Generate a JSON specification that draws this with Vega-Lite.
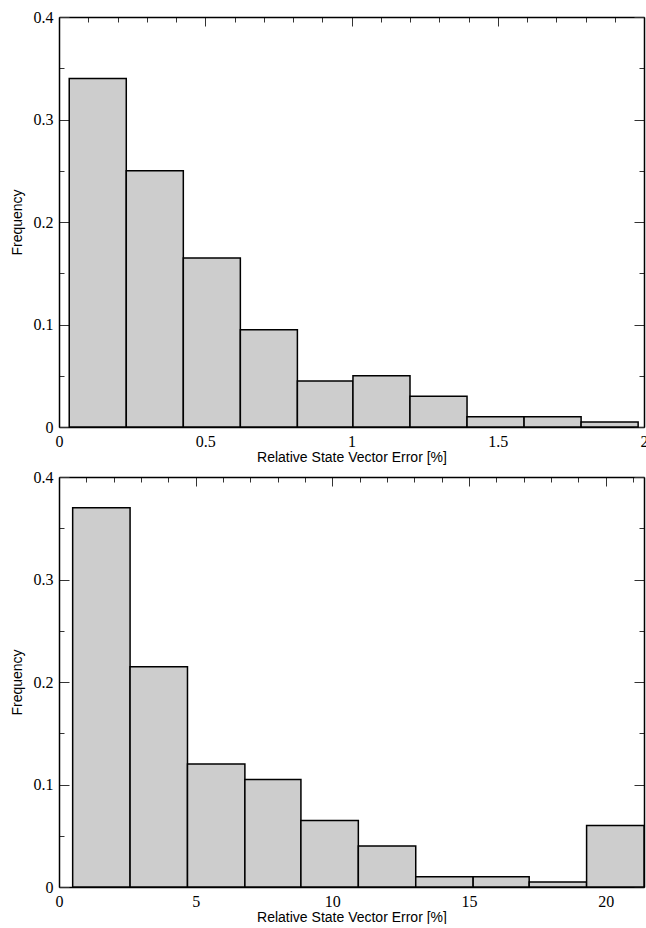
{
  "$schema": "https://vega.github.io/schema/vega-lite/v6.json",
  "padding": {"left": 10, "top": 9, "right": 0, "bottom": 0},
  "spacing": 5,
  "datasets": {
    "top": [
      {"x0": 0.035, "x1": 0.23, "freq": 0.34},
      {"x0": 0.23, "x1": 0.425, "freq": 0.25},
      {"x0": 0.425, "x1": 0.62, "freq": 0.165},
      {"x0": 0.62, "x1": 0.815, "freq": 0.095},
      {"x0": 0.815, "x1": 1.005, "freq": 0.045},
      {"x0": 1.005, "x1": 1.2, "freq": 0.05},
      {"x0": 1.2, "x1": 1.395, "freq": 0.03},
      {"x0": 1.395, "x1": 1.59, "freq": 0.01},
      {"x0": 1.59, "x1": 1.785, "freq": 0.01},
      {"x0": 1.785, "x1": 1.98, "freq": 0.005}
    ],
    "bottom": [
      {"x0": 0.5, "x1": 2.6, "freq": 0.37},
      {"x0": 2.6, "x1": 4.7, "freq": 0.215},
      {"x0": 4.7, "x1": 6.8, "freq": 0.12},
      {"x0": 6.8, "x1": 8.85, "freq": 0.105},
      {"x0": 8.85, "x1": 10.95, "freq": 0.065},
      {"x0": 10.95, "x1": 13.05, "freq": 0.04},
      {"x0": 13.05, "x1": 15.15, "freq": 0.01},
      {"x0": 15.15, "x1": 17.2, "freq": 0.01},
      {"x0": 17.2, "x1": 19.3, "freq": 0.005},
      {"x0": 19.3, "x1": 21.4, "freq": 0.06}
    ]
  },
  "config": {
    "view": {"stroke": null},
    "axis": {
      "domainColor": "black",
      "domainWidth": 1.5,
      "tickColor": "#333",
      "tickWidth": 1,
      "labelFont": "Liberation Serif",
      "labelFontSize": 16,
      "labelColor": "black",
      "labelOverlap": false,
      "labelFlush": false,
      "titleFont": "Liberation Sans",
      "titleFontSize": 14,
      "titleFontWeight": "normal",
      "titleColor": "black",
      "grid": false
    }
  },
  "vconcat": [
    {
      "width": 585,
      "height": 410,
      "data": {"name": "top"},
      "layer": [
        {
          "mark": {"type": "bar", "fill": "#cdcdcd", "stroke": "black", "strokeWidth": 1.5},
          "encoding": {
            "x": {"field": "x0", "type": "quantitative", "scale": {"domain": [0, 2], "nice": false, "zero": false},
              "axis": {"orient": "bottom", "title": "Relative State Vector Error [%]",
                "values": [0,0.1,0.2,0.3,0.4,0.5,0.6,0.7,0.8,0.9,1,1.1,1.2,1.3,1.4,1.5,1.6,1.7,1.8,1.9,2],
                "tickSize": {"condition": {"test": "abs(datum.value*2 - round(datum.value*2)) < 0.001", "value": -9}, "value": -5},
                "labelExpr": "abs(datum.value*2 - round(datum.value*2)) < 0.001 ? toString(round(datum.value*10)/10) : ''",
                "labelPadding": 15, "titlePadding": -3}},
            "x2": {"field": "x1"},
            "y": {"field": "freq", "type": "quantitative", "scale": {"domain": [0, 0.4], "nice": false},
              "axis": {"orient": "left", "title": "Frequency",
                "values": [0,0.05,0.1,0.15,0.2,0.25,0.3,0.35,0.4],
                "tickSize": {"condition": {"test": "abs(datum.value*10 - round(datum.value*10)) < 0.001", "value": -10}, "value": -5},
                "labelExpr": "abs(datum.value*10 - round(datum.value*10)) < 0.001 ? toString(round(datum.value*10)/10) : ''",
                "labelPadding": 16, "titlePadding": 9}},
            "y2": {"datum": 0}
          }
        },
        {
          "mark": {"type": "bar", "opacity": 0},
          "encoding": {
            "x": {"field": "x0", "type": "quantitative",
              "axis": {"orient": "top", "title": null, "labels": false,
                "values": [0,0.1,0.2,0.3,0.4,0.5,0.6,0.7,0.8,0.9,1,1.1,1.2,1.3,1.4,1.5,1.6,1.7,1.8,1.9,2],
                "tickSize": {"condition": {"test": "abs(datum.value*2 - round(datum.value*2)) < 0.001", "value": -9}, "value": -5}}},
            "x2": {"field": "x1"},
            "y": {"field": "freq", "type": "quantitative",
              "axis": {"orient": "right", "title": null, "labels": false,
                "values": [0,0.05,0.1,0.15,0.2,0.25,0.3,0.35,0.4],
                "tickSize": {"condition": {"test": "abs(datum.value*10 - round(datum.value*10)) < 0.001", "value": -10}, "value": -5}}},
            "y2": {"datum": 0}
          }
        }
      ],
      "resolve": {"axis": {"x": "independent", "y": "independent"}}
    },
    {
      "width": 585,
      "height": 410,
      "data": {"name": "bottom"},
      "layer": [
        {
          "mark": {"type": "bar", "fill": "#cdcdcd", "stroke": "black", "strokeWidth": 1.5},
          "encoding": {
            "x": {"field": "x0", "type": "quantitative", "scale": {"domain": [0, 21.4], "nice": false, "zero": false},
              "axis": {"orient": "bottom", "title": "Relative State Vector Error [%]",
                "values": [0,1,2,3,4,5,6,7,8,9,10,11,12,13,14,15,16,17,18,19,20,21],
                "tickSize": {"condition": {"test": "datum.value % 5 === 0", "value": -9}, "value": -5},
                "labelExpr": "datum.value % 5 === 0 ? toString(datum.value) : ''",
                "labelPadding": 15, "titlePadding": -3}},
            "x2": {"field": "x1"},
            "y": {"field": "freq", "type": "quantitative", "scale": {"domain": [0, 0.4], "nice": false},
              "axis": {"orient": "left", "title": "Frequency",
                "values": [0,0.05,0.1,0.15,0.2,0.25,0.3,0.35,0.4],
                "tickSize": {"condition": {"test": "abs(datum.value*10 - round(datum.value*10)) < 0.001", "value": -10}, "value": -5},
                "labelExpr": "abs(datum.value*10 - round(datum.value*10)) < 0.001 ? toString(round(datum.value*10)/10) : ''",
                "labelPadding": 16, "titlePadding": 9}},
            "y2": {"datum": 0}
          }
        },
        {
          "mark": {"type": "bar", "opacity": 0},
          "encoding": {
            "x": {"field": "x0", "type": "quantitative",
              "axis": {"orient": "top", "title": null, "labels": false,
                "values": [0,1,2,3,4,5,6,7,8,9,10,11,12,13,14,15,16,17,18,19,20,21],
                "tickSize": {"condition": {"test": "datum.value % 5 === 0", "value": -9}, "value": -5}}},
            "x2": {"field": "x1"},
            "y": {"field": "freq", "type": "quantitative",
              "axis": {"orient": "right", "title": null, "labels": false,
                "values": [0,0.05,0.1,0.15,0.2,0.25,0.3,0.35,0.4],
                "tickSize": {"condition": {"test": "abs(datum.value*10 - round(datum.value*10)) < 0.001", "value": -10}, "value": -5}}},
            "y2": {"datum": 0}
          }
        }
      ],
      "resolve": {"axis": {"x": "independent", "y": "independent"}}
    }
  ]
}
